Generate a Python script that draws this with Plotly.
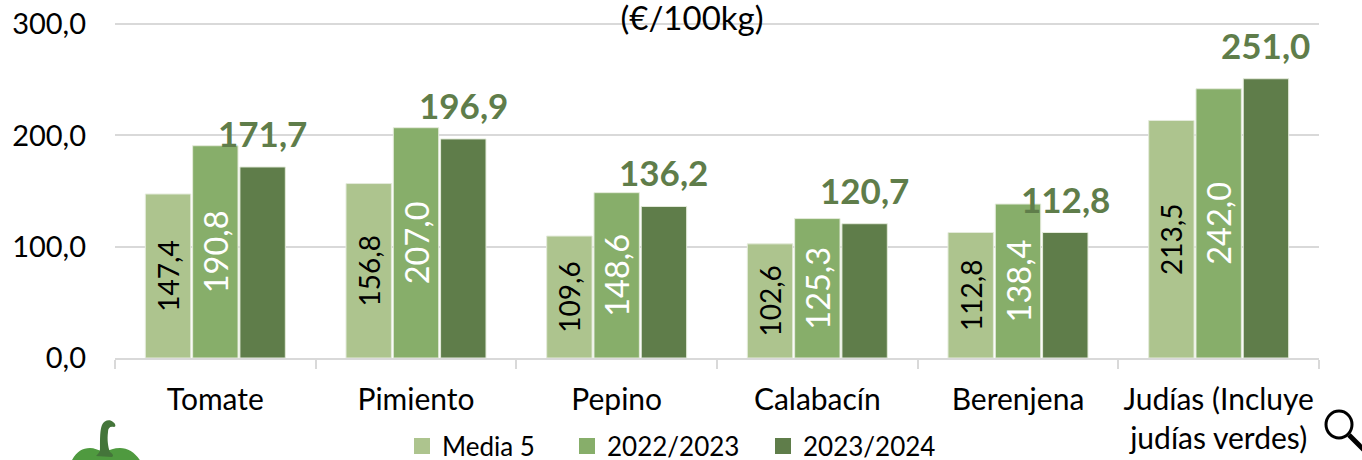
import plotly.graph_objects as go

categories = ["Tomate", "Pimiento", "Pepino", "Calabacín", "Berenjena", "Judías (Incluye<br>judías verdes)"]
media5 = [147.4, 156.8, 109.6, 102.6, 112.8, 213.5]
campaign_2223 = [190.8, 207.0, 148.6, 125.3, 138.4, 242.0]
campaign_2324 = [171.7, 196.9, 136.2, 120.7, 112.8, 251.0]
y_ticks = [0, 100, 200, 300]

FONT = "Lato"
C1, C2, C3 = "#ADC48E", "#87AE6A", "#5F7D4A"
GRID = "#D9D9D9"
W, H = 1362, 460
Y_MAX = 302
L, R, T, B = 115, 1319, 21.8, 358


def px(x):
    return (x - L) / (R - L)


def py(y):
    return (B - y) / (B - T)


def path(*tokens):
    out, nums = [], []
    for t in tokens:
        if isinstance(t, str):
            out.append(t)
        else:
            nums.append(t)
            if len(nums) == 2:
                out.append(f"{px(nums[0]):.5f},{py(nums[1]):.5f}")
                nums = []
    return " ".join(out)


fig = go.Figure()
for name, vals, col, tcol, size in [
    ("Media 5", media5, C1, "black", 28),
    ("2022/2023", campaign_2223, C2, "white", 32.5),
    ("2023/2024", campaign_2324, C3, None, 27),
]:
    fig.add_bar(
        x=categories, y=vals, name=name, showlegend=False,
        marker=dict(color=col, line=dict(color="#E4EBDB", width=1)),
        texttemplate="%{y:.1f}" if tcol else None,
        textposition="inside" if tcol else "none",
        insidetextanchor="middle", textangle=-90,
        insidetextfont=dict(family=FONT, size=size, color=tcol or "black"),
        hoverinfo="x+y",
    )

# legend entries, each placed on its own
for i, (name, col, lx) in enumerate([("Media 5", C1, 402), ("2022/2023", C2, 567), ("2023/2024", C3, 763)]):
    lname = "legend" if i == 0 else f"legend{i + 1}"
    fig.add_scatter(x=[categories[0]], y=[None], name=name, mode="markers", legend=lname,
                    marker=dict(symbol="square", size=16, color=col), showlegend=True)
    fig.update_layout({lname: dict(
        xref="container", yref="container", x=lx / W, y=1 - 446 / H,
        xanchor="left", yanchor="middle", orientation="h",
        font=dict(family=FONT, size=26, color="black"), bgcolor="rgba(0,0,0,0)",
    )})

annotations = [
    dict(x=c, y=v, xref="x", yref="y", text=f"{v:.1f}".replace(".", ","), showarrow=False,
         xshift=47.3, yshift=34, yanchor="middle", xanchor="center",
         font=dict(family=FONT, size=35, color=C3, weight="bold"))
    for c, v in zip(categories, campaign_2324)
]

shapes = [
    # pepper body
    dict(type="path", xref="paper", yref="paper", layer="above", line=dict(width=0), fillcolor="#4F9A3F",
         path=path("M", 71, 462, "C", 76, 452, 82, 448, 90, 448, "C", 94, 448, 98, 450, 104, 452,
                   "C", 110, 450, 114, 448, 120, 448, "C", 128, 448, 136, 453, 141, 462, "Z")),
    # pepper stem
    dict(type="path", xref="paper", yref="paper", layer="above", line=dict(width=0), fillcolor="#44753A",
         path=path("M", 96, 456, "C", 99, 453, 100, 452, 100, 448, "C", 100, 438, 100, 430, 102, 425,
                   "C", 104, 420, 110, 419, 113, 422, "C", 116, 424, 116, 427, 114, 427,
                   "C", 110, 426, 108, 428, 108, 432, "C", 107, 440, 108, 447, 110, 452,
                   "C", 113, 454, 114, 456, 112, 457, "Z")),
    # magnifier
    dict(type="circle", xref="paper", yref="paper", layer="above", x0=px(1326), x1=px(1352), y0=py(438), y1=py(411),
         line=dict(color="black", width=3), fillcolor="rgba(0,0,0,0)"),
    dict(type="line", xref="paper", yref="paper", layer="above", x0=px(1349), y0=py(435), x1=px(1364), y1=py(450),
         line=dict(color="black", width=5)),
]

fig.update_layout(
    width=W, height=H, autosize=False,
    margin=dict(l=L, r=W - R, t=T, b=H - B, pad=0, autoexpand=False),
    paper_bgcolor="white", plot_bgcolor="white",
    separators=",.",
    barmode="group", bargap=0.293, bargroupgap=0.04,
    font=dict(family=FONT, size=29, color="black"),
    title=dict(text="(€/100kg)", x=692 / W, y=1 - 18 / H, xref="container", yref="container",
               xanchor="center", yanchor="middle", font=dict(family=FONT, size=33, color="black")),
    annotations=annotations,
    shapes=shapes,
    xaxis=dict(type="category", tickson="boundaries", ticks="outside", ticklen=9, tickwidth=2, tickcolor=GRID,
               showline=True, linecolor=GRID, linewidth=2, showgrid=False, automargin=False,
               tickfont=dict(family=FONT, size=30, color="black"), ticklabelstandoff=14, tickangle=0),
    yaxis=dict(range=[0, Y_MAX], tickvals=y_ticks, tickformat=".1f", showgrid=True, gridcolor=GRID, gridwidth=2,
               zeroline=False, showline=False, ticks="", ticklabelstandoff=28, automargin=False,
               tickfont=dict(family=FONT, size=29, color="black")),
)

fig.write_html("out.html", config={"displayModeBar": False},
               post_script="document.body.style.margin='0';document.body.style.overflow='hidden';")
